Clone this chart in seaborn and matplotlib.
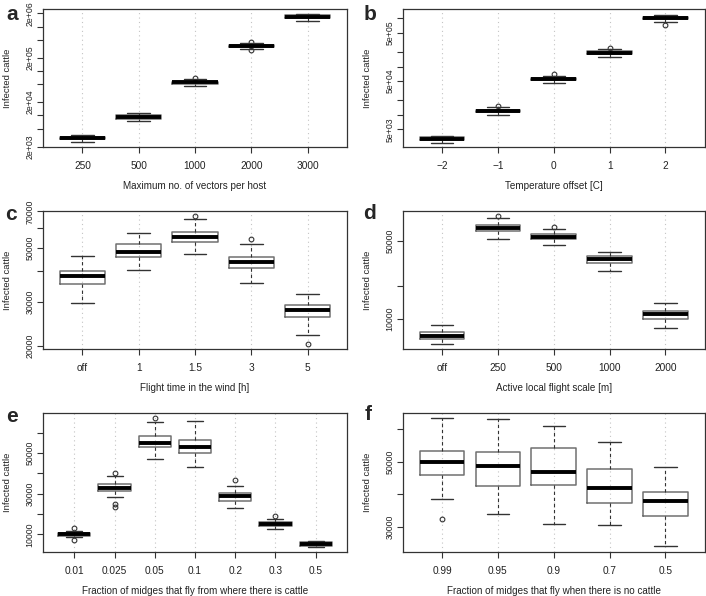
import numpy as np
import pandas as pd
import matplotlib
matplotlib.use("Agg")
import matplotlib.pyplot as plt
import seaborn as sns

sns.set_style("white")
plt.rcParams["font.family"] = ["Liberation Sans", "DejaVu Sans"]

# box summaries: (lower whisker, q1, median, q3, upper whisker)
a_labels = ["250", "500", "1000", "2000", "3000"]
a_stats = [(2550, 2880, 3080, 3300, 3600),
           (7330, 8270, 9170, 10170, 11100),
           (46700, 52000, 55500, 58000, 66100),
           (308000, 354000, 370000, 390000, 435000),
           (1340000, 1540000, 1680000, 1830000, 1930000)]
a_out = [[], [], [69500], [292000, 459000], []]

b_labels = ["\u22122", "\u22121", "0", "1", "2"]
b_stats = [(2640, 2940, 3190, 3450, 3680),
           (9800, 11500, 12100, 12700, 14400),
           (45900, 52000, 54700, 57500, 64100),
           (160000, 186000, 195000, 205000, 232000),
           (853000, 980000, 1030000, 1090000, 1170000)]
b_out = [[], [14900], [68300], [243000], [728000]]

c_labels = ["off", "1", "1.5", "3", "5"]
c_stats = [(29830, 35720, 38230, 40070, 46060),
           (40440, 45770, 47960, 51500, 57050),
           (47070, 52640, 54970, 58000, 65000),
           (36050, 41320, 43700, 45920, 51670),
           (22150, 26270, 27870, 29380, 32450)]
c_out = [[], [], [67050], [54120], [20380]]

d_labels = ["off", "250", "500", "1000", "2000"]
d_stats = [(5930, 6660, 7090, 7650, 8900),
           (52450, 62300, 66300, 70530, 81470),
           (46670, 52100, 55050, 57800, 64480),
           (27110, 31970, 34480, 36680, 40400),
           (8360, 10070, 11090, 11720, 14010)]
d_out = [[], [84330], [66720], [], []]

e_labels = ["0.01", "0.025", "0.05", "0.1", "0.2", "0.3", "0.5"]
e_stats = [(8680, 9340, 10000, 10660, 11810),
           (28420, 31220, 33030, 34670, 38950),
           (47340, 53090, 55230, 58520, 65260),
           (43390, 49970, 52930, 56550, 65920),
           (22830, 26610, 28750, 30560, 33680),
           (12470, 14280, 15260, 16090, 17730),
           (4000, 4410, 5230, 6050, 6500)]
e_out = [[7200, 12960], [23490, 24800, 40430], [67240], [], [37000], [19050], []]

f_labels = ["0.99", "0.95", "0.9", "0.7", "0.5"]
f_stats = [(38650, 45770, 49740, 53090, 63160),
           (33970, 42610, 48510, 52790, 62960),
           (30810, 42920, 46890, 54110, 60720),
           (30710, 37220, 41900, 47700, 55840),
           (24200, 33260, 37830, 40780, 48310)]
f_out = [[32340], [], [], [], []]


def to_long(labels, stats, outliers):
    # sample whose quartiles/whiskers reproduce the summaries above
    rows = []
    for lab, (lo, q1, med, q3, hi), out in zip(labels, stats, outliers):
        vals = [lo] + [q1] * 10 + [med] * 5 + [q3] * 10 + [hi] + list(out)
        rows += [(lab, v) for v in vals]
    return pd.DataFrame(rows, columns=["group", "value"])


grid_kw = dict(color="#c4c4c4", linestyle=(0, (1, 3)), linewidth=0.8)


def panel(ax, labels, stats, outliers, log, ylim, yticks, ylabels, ygrid, xlabel):
    df = to_long(labels, stats, outliers)
    sns.boxplot(data=df, x="group", y="value", order=labels, ax=ax, width=0.8,
                fill=False, whis=1.5,
                boxprops=dict(color="#707070", linewidth=1.1),
                medianprops=dict(color="black", linewidth=2.8),
                whiskerprops=dict(color="#333333", linewidth=0.8, linestyle=(0, (3, 2.5))),
                capprops=dict(color="#333333", linewidth=1.0),
                flierprops=dict(marker="o", markerfacecolor="none",
                                markeredgecolor="#333333", markersize=3.4,
                                markeredgewidth=0.8))
    if log:
        ax.set_yscale("log")
    n = len(labels)
    pad = 0.04 * n
    ax.set_xlim(-0.5 - pad, n - 0.5 + pad)
    ax.set_ylim(*ylim)
    ax.set_yticks(yticks, labels=ylabels)
    ax.set_yticks(ygrid, minor=True)
    ax.set_axisbelow(True)
    ax.xaxis.grid(True, **grid_kw)
    ax.yaxis.grid(True, which="minor", **grid_kw)
    ax.yaxis.grid(False, which="major")
    ax.tick_params(which="minor", length=0)
    ax.tick_params(which="major", direction="out", length=4.3, width=0.8,
                   color="#333333", labelcolor="#222222",
                   left=True, bottom=True, top=False, right=False)
    ax.tick_params(axis="x", pad=5.5, labelsize=7.3)
    ax.tick_params(axis="y", pad=1.8, labelsize=6.3, labelrotation=90)
    for t in ax.get_yticklabels():
        t.set_va("center")
    for s in ax.spines.values():
        s.set_color("#333333")
        s.set_linewidth(0.9)
    ax.set_xlabel(xlabel, fontsize=7.1, color="#222222", labelpad=7.5)
    ax.set_ylabel("Infected cattle", fontsize=6.8, color="#222222", labelpad=9.5)


fig = plt.figure(figsize=(7.06, 5.96), dpi=100)
W, H = 706, 596
lefts = [43, 403]
rights = [347, 704.5]
tops = [9, 211, 413]
bottoms = [147, 349, 552]

axes = {}
for r in range(3):
    for c in range(2):
        rect = [lefts[c] / W, 1 - bottoms[r] / H,
                (rights[c] - lefts[c]) / W, (bottoms[r] - tops[r]) / H]
        axes[(r, c)] = fig.add_axes(rect)

panel(axes[(0, 0)], a_labels, a_stats, a_out, True, (1950, 2.5e6),
      [2e3, 5e3, 1e4, 2e4, 5e4, 1e5, 2e5, 5e5, 1e6, 2e6],
      ["2e+03", "", "", "2e+04", "", "", "2e+05", "", "", "2e+06"],
      [1e4, 1e5, 1e6], "Maximum no. of vectors per host")
panel(axes[(0, 1)], b_labels, b_stats, b_out, True, (2140, 1.56e6),
      [5e3, 1e4, 2e4, 5e4, 1e5, 2e5, 5e5, 1e6],
      ["5e+03", "", "", "5e+04", "", "", "5e+05", ""],
      [1e4, 1e5, 1e6], "Temperature offset [C]")
panel(axes[(1, 0)], c_labels, c_stats, c_out, True, (19400, 70300),
      [20000, 30000, 40000, 50000, 60000, 70000],
      ["20000", "30000", "", "50000", "", "70000"],
      [20000, 30000, 40000, 50000, 60000, 70000], "Flight time in the wind [h]")
panel(axes[(1, 1)], d_labels, d_stats, d_out, True, (5385, 93500),
      [10000, 20000, 50000], ["10000", "", "50000"],
      [10000], "Active local flight scale [m]")
panel(axes[(2, 0)], e_labels, e_stats, e_out, False, (1300, 69800),
      [10000, 20000, 30000, 40000, 50000, 60000],
      ["10000", "", "30000", "", "50000", ""],
      [10000, 20000, 30000, 40000, 50000, 60000],
      "Fraction of midges that fly from where there is cattle")
panel(axes[(2, 1)], f_labels, f_stats, f_out, False, (22400, 64800),
      [30000, 40000, 50000, 60000], ["30000", "", "50000", ""],
      [30000, 40000, 50000, 60000],
      "Fraction of midges that fly when there is no cattle")

for letter, (x, y) in zip("abcdef", [(12, 14), (370, 14), (11, 215),
                                      (370, 213), (12, 417), (368, 415)]):
    fig.text(x / W, 1 - y / H, letter, fontsize=15, fontweight="bold",
             ha="center", va="center")

fig.savefig("out.png", dpi=100)
